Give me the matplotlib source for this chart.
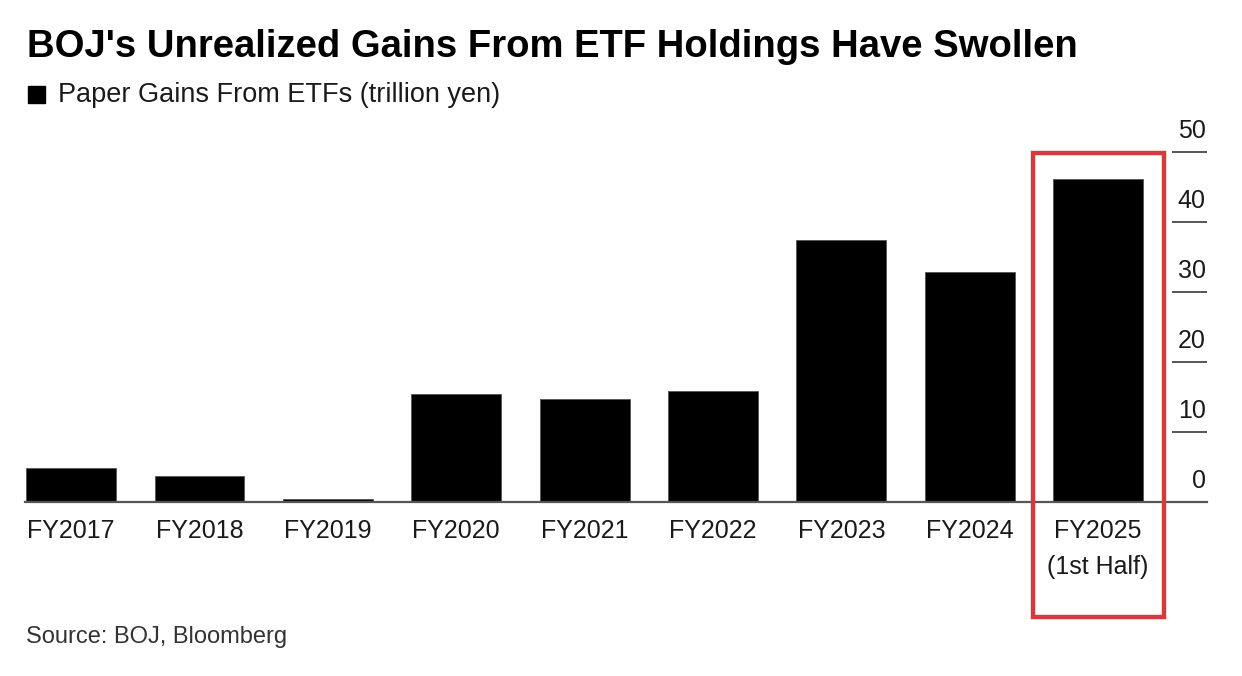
import matplotlib
matplotlib.use('Agg')
import matplotlib.pyplot as plt
from matplotlib.patches import Rectangle

# --- data (trillion yen) ---
categories = ['FY2017', 'FY2018', 'FY2019', 'FY2020', 'FY2021',
              'FY2022', 'FY2023', 'FY2024', 'FY2025\n(1st Half)']
paper_gains = [4.9, 3.7, 0.4, 15.4, 14.7, 15.9, 37.4, 32.9, 46.1]
y_ticks = [0, 10, 20, 30, 40, 50]

plt.rcParams['font.family'] = ['Liberation Sans', 'DejaVu Sans']

W, H = 1242, 676
fig = plt.figure(figsize=(W / 100, H / 100), dpi=100)
ax = fig.add_axes([0.020, 0.257, 0.952, 0.518])

x = list(range(len(categories)))
ax.bar(x, paper_gains, width=0.7, color='black', edgecolor='#555555', linewidth=0.6, zorder=2)

ax.set_xlim(-0.36, 8.85)
ax.set_ylim(0, 50)

# x axis
ax.set_xticks(x)
ax.set_xticklabels(categories, fontsize=18, color='#1a1a1a', linespacing=1.65)
ax.tick_params(axis='x', length=0, pad=12)

# y axis on the right, short tick lines with the labels sitting above them
ax.yaxis.set_ticks_position('right')
ax.set_yticks(y_ticks)
ax.tick_params(axis='y', direction='in', length=25, width=1.4, color='#555555', labelright=False)
for v in y_ticks:
    ax.annotate(str(v), xy=(1.0, v), xycoords=ax.get_yaxis_transform(),
                xytext=(-1, 10), textcoords='offset points',
                ha='right', va='baseline', fontsize=18, color='#1a1a1a')

for side in ['top', 'left', 'right']:
    ax.spines[side].set_visible(False)
ax.spines['bottom'].set_color('#555555')
ax.spines['bottom'].set_linewidth(1.6)

# red highlight box around the last bar
box = Rectangle((7.49, -16.4), 1.02, 66.3, fill=False, edgecolor='#d23c3c',
                linewidth=3.2, clip_on=False, zorder=5)
ax.add_patch(box)

# title, legend, source
fig.text(27 / W, 1 - 57 / H, "BOJ's Unrealized Gains From ETF Holdings Have Swollen",
         fontsize=27.5, fontweight='bold', color='black', ha='left', va='baseline')
fig.patches.append(Rectangle((28 / W, 1 - 103 / H), 17 / W, 17 / H, color='black',
                             transform=fig.transFigure, figure=fig))
fig.text(58 / W, 1 - 102 / H, "Paper Gains From ETFs (trillion yen)",
         fontsize=19.5, color='#1a1a1a', ha='left', va='baseline')
fig.text(26 / W, 1 - 643 / H, "Source: BOJ, Bloomberg", fontsize=17, color='#333333',
         ha='left', va='baseline')

fig.savefig('out.png', dpi=100)
